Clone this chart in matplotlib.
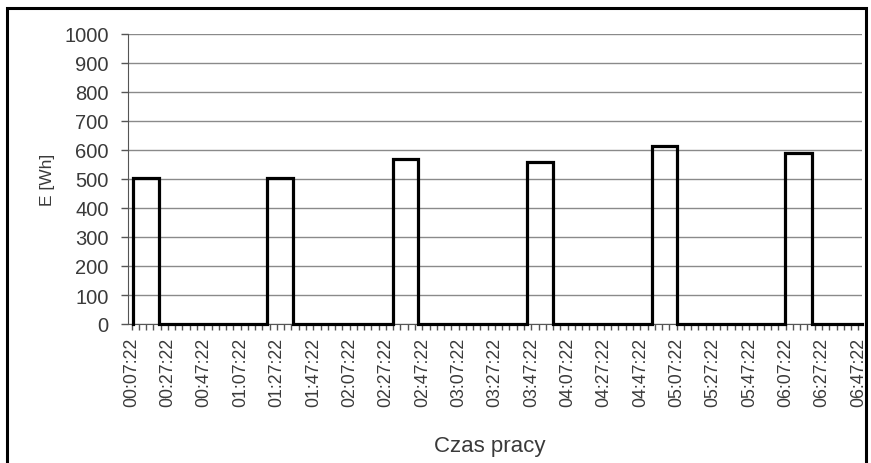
import matplotlib
matplotlib.use("Agg")
import matplotlib.pyplot as plt
from matplotlib.patches import Rectangle

plt.rcParams['font.family'] = ['Liberation Sans', 'DejaVu Sans']

# Data (time in minutes from 00:00:00)
pulse_start = [7.97, 81.7, 151.1, 224.8, 293.6, 367.0]
pulse_end = [22.6, 96.4, 165.2, 239.1, 307.4, 381.7]
pulse_energy = [503, 503, 570, 560, 614, 590]
t_end = 409.4

tick_labels = ["00:07:22", "00:27:22", "00:47:22", "01:07:22", "01:27:22",
               "01:47:22", "02:07:22", "02:27:22", "02:47:22", "03:07:22",
               "03:27:22", "03:47:22", "04:07:22", "04:27:22", "04:47:22",
               "05:07:22", "05:27:22", "05:47:22", "06:07:22", "06:27:22",
               "06:47:22"]
first_label_min = 7 + 22 / 60

# build step line
xs, ys = [], []
for s, e, v in zip(pulse_start, pulse_end, pulse_energy):
    xs += [s, s, e, e]
    ys += [0, v, v, 0]
xs.append(t_end)
ys.append(0)

fig = plt.figure(figsize=(8.71, 4.64), dpi=100)
ax = fig.add_axes([128 / 871, 1 - 325 / 464, (862 - 128) / 871, (325 - 35) / 464])

ax.plot(xs, ys, color='black', lw=2.3, solid_joinstyle='miter', zorder=3, clip_on=False)

ax.set_xlim(5.4, 409.4)
ax.set_ylim(0, 1000)
ax.set_yticks(range(0, 1001, 100))
ax.yaxis.grid(True, color='#8a8a8a', lw=1.0)
ax.set_axisbelow(True)

text_col = '#3a3a3a'
major = [first_label_min + 20 * i for i in range(len(tick_labels))]
ax.set_xticks(major)
ax.set_xticklabels(tick_labels, rotation=90, fontsize=12.8, color=text_col)
ax.set_xticks([first_label_min + 4 * i for i in range(101)], minor=True)
ax.tick_params(axis='x', which='both', direction='out', length=4, width=1, color='#555555', pad=5)
ax.tick_params(axis='y', direction='out', length=5, width=1, color='#555555', labelsize=14.5,
               labelcolor=text_col, pad=9)

for sp in ['top', 'right']:
    ax.spines[sp].set_visible(False)
ax.spines['left'].set_color('#555555')
ax.spines['bottom'].set_color('#555555')

fig.text(47 / 871, 1 - 180 / 464, 'E [Wh]', rotation=90, ha='center', va='center',
         fontsize=12.5, color=text_col)
fig.text(490 / 871, 1 - 447 / 464, 'Czas pracy', ha='center', va='center', fontsize=16, color=text_col)

# outer frame
fig.patches.append(Rectangle((7 / 871, -0.1), (866 - 7) / 871, 1 - 9 / 464 + 0.1,
                             transform=fig.transFigure, fill=False, edgecolor='black', lw=2.2))

fig.savefig('out.png', dpi=100)
